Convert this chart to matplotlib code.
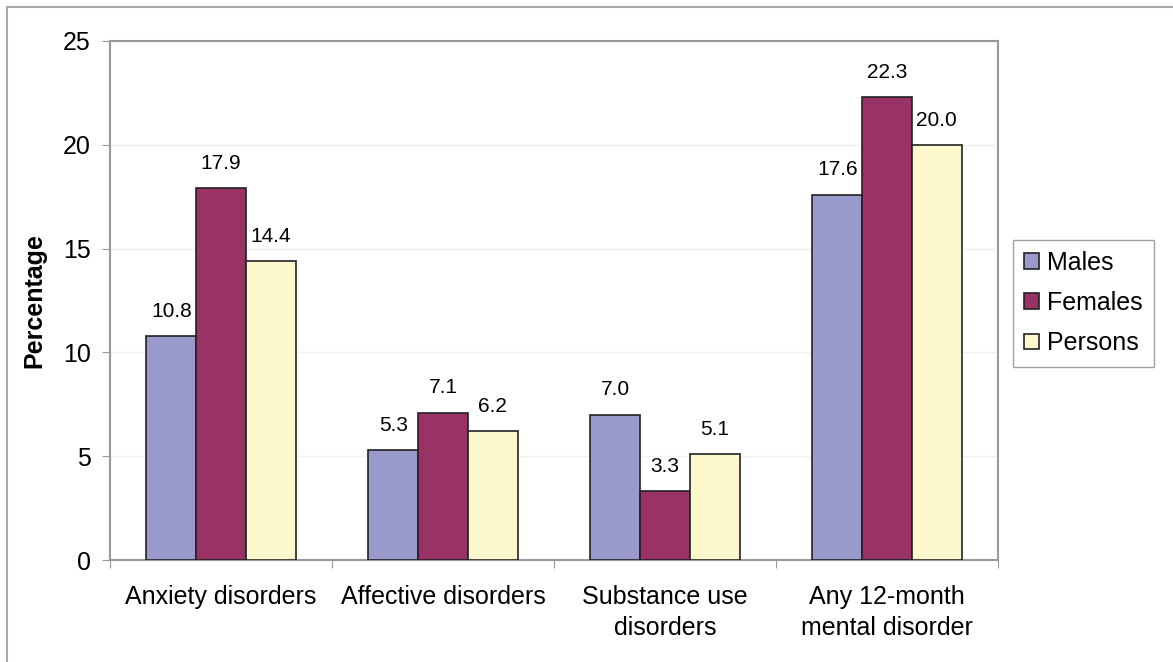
import numpy as np
import matplotlib.pyplot as plt
from matplotlib.lines import Line2D

categories = ["Anxiety disorders", "Affective disorders", "Substance use\ndisorders",
              "Any 12-month\nmental disorder"]
males = [10.8, 5.3, 7.0, 17.6]
females = [17.9, 7.1, 3.3, 22.3]
persons = [14.4, 6.2, 5.1, 20.0]
series_names = ["Males", "Females", "Persons"]
colors = ["#9999cc", "#993366", "#fcf8cc"]

plt.rcParams['font.family'] = ['Liberation Sans', 'DejaVu Sans']

fig = plt.figure(figsize=(11.73, 6.62), dpi=100)
ax = fig.add_axes([110 / 1173, 102 / 662, 888 / 1173, 519 / 662])

# light frame of the chart area (top and left edges visible)
fig.add_artist(Line2D([7 / 1173, 1], [1 - 7 / 662] * 2, color="#a8a8a8", lw=1.5,
                      transform=fig.transFigure))
fig.add_artist(Line2D([7 / 1173] * 2, [0, 1 - 7 / 662], color="#a8a8a8", lw=1.5,
                      transform=fig.transFigure))

x = np.arange(len(categories))
w = 0.224
for i, (vals, name) in enumerate(zip([males, females, persons], series_names)):
    bars = ax.bar(x + (i - 1) * w, vals, w, color=colors[i], edgecolor="#222222",
                  linewidth=1.2, label=name, zorder=3)
    ax.bar_label(bars, labels=[f"{v:.1f}" for v in vals], padding=11, fontsize=15)

ax.set_xlim(-0.5, len(categories) - 0.5)
ax.set_ylim(0, 25)
ax.set_yticks([0, 5, 10, 15, 20, 25])
ax.yaxis.grid(True, color="#f0f0f0", lw=1)
ax.set_axisbelow(True)

ax.set_xticks(np.arange(len(categories) + 1) - 0.5, labels=[])
ax.set_xticks(x, labels=categories, minor=True)
for t in ax.get_xticklabels(minor=True):
    t.set_linespacing(1.35)
ax.tick_params(axis="x", which="minor", length=0, labelsize=18, pad=18)
ax.tick_params(axis="x", which="major", length=6, color="#999999")
ax.tick_params(axis="y", length=6, color="#999999", labelsize=18, pad=8)

for s in ax.spines.values():
    s.set_color("#999999")
    s.set_linewidth(1.5)

ax.set_ylabel("Percentage", fontsize=18, fontweight="bold", labelpad=12)

leg = ax.legend(loc="center left", bbox_to_anchor=(1.017, 0.495), fontsize=18,
                frameon=True, fancybox=False, edgecolor="#888888",
                handlelength=0.6, handleheight=0.6, handletextpad=0.3,
                labelspacing=0.65, borderpad=0.45, borderaxespad=0)

fig.savefig("out.png", dpi=100)
